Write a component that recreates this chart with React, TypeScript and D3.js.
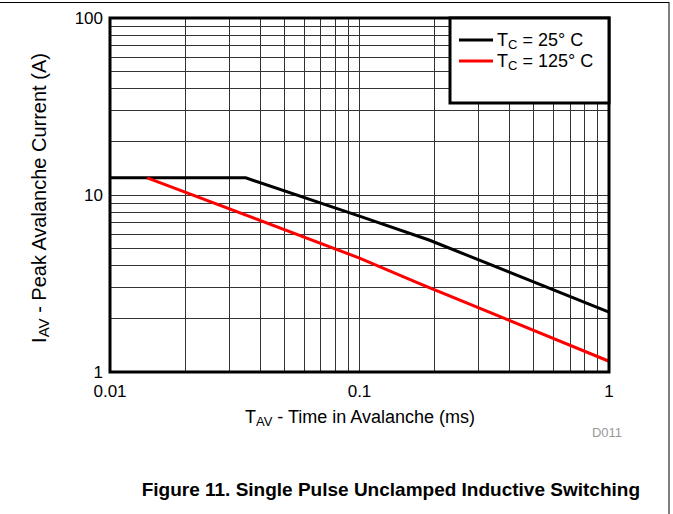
import React from "react";
import * as d3 from "d3";

const xTicks = [0.01, 0.1, 1];
const xTickLabels = ["0.01", "0.1", "1"];
const yTicks = [1, 10, 100];
const yTickLabels = ["1", "10", "100"];

const timeTc25 = [0.01, 0.035, 0.1, 0.19, 1];
const currentTc25 = [12.5, 12.5, 7.6, 5.57, 2.18];
const timeTc125 = [0.0141, 0.1, 0.175, 1];
const currentTc125 = [12.5, 4.4, 3.15, 1.15];

const seriesNames = ["25° C", "125° C"];
const seriesColors = ["#000000", "#ff0000"];

const W = 673;
const H = 514;
const left = 110;
const right = 609;
const top = 18;
const bottom = 372;

export default function App() {
  const x = d3.scaleLog().domain([0.01, 1]).range([left, right]);
  const y = d3.scaleLog().domain([1, 100]).range([bottom, top]);

  const minorX: number[] = [];
  for (const dec of [0.01, 0.1]) for (let k = 2; k <= 9; k++) minorX.push(dec * k);
  const minorY: number[] = [];
  for (const dec of [1, 10]) for (let k = 2; k <= 9; k++) minorY.push(dec * k);

  const line = d3
    .line<[number, number]>()
    .x((d) => x(d[0]))
    .y((d) => y(d[1]));

  const s1 = timeTc25.map((t, i) => [t, currentTc25[i]] as [number, number]);
  const s2 = timeTc125.map((t, i) => [t, currentTc125[i]] as [number, number]);

  const font = "Liberation Sans, Arial, sans-serif";

  return (
    <svg
      width={W}
      height={H}
      style={{ position: "absolute", left: 0, top: 0, background: "#fff" }}
      fontFamily={font}
    >
      <rect x={-1} y={2.5} width={670} height={520} fill="none" stroke="#000" strokeWidth={1} />
      <g shapeRendering="crispEdges">
        {minorX.concat([0.1]).map((v, i) => (
          <line key={"vx" + i} x1={x(v)} x2={x(v)} y1={top} y2={bottom} stroke="#333" strokeWidth={1} />
        ))}
        {minorY.concat([10]).map((v, i) => (
          <line key={"hy" + i} x1={left} x2={right} y1={y(v)} y2={y(v)} stroke="#333" strokeWidth={1} />
        ))}
      </g>
      <path d={line(s1) || ""} fill="none" stroke={seriesColors[0]} strokeWidth={3} />
      <path d={line(s2) || ""} fill="none" stroke={seriesColors[1]} strokeWidth={3} />
      <rect x={left} y={top} width={right - left} height={bottom - top} fill="none" stroke="#000" strokeWidth={3} />
      {/* legend */}
      <rect x={450} y={top} width={right - 450} height={103 - top} fill="#fff" stroke="#000" strokeWidth={3} />
      {seriesNames.map((name, i) => (
        <g key={name}>
          <line x1={459} x2={493} y1={40 + i * 21} y2={40 + i * 21} stroke={seriesColors[i]} strokeWidth={3} />
          <text x={497} y={46 + i * 21} fontSize={18} fill="#000">
            T<tspan fontSize={13} dy={3}>C</tspan>
            <tspan dy={-3}>{" = " + name}</tspan>
          </text>
        </g>
      ))}
      {/* x tick labels */}
      {xTicks.map((v, i) => (
        <text key={"xt" + i} x={x(v)} y={397} fontSize={17} textAnchor="middle" fill="#000">
          {xTickLabels[i]}
        </text>
      ))}
      {yTicks.map((v, i) => (
        <text key={"yt" + i} x={103} y={y(v) + 6} fontSize={17} textAnchor="end" fill="#000">
          {yTickLabels[i]}
        </text>
      ))}
      <text x={360} y={423} fontSize={18} textAnchor="middle" fill="#000">
        T<tspan fontSize={13} dy={3}>AV</tspan>
        <tspan dy={-3}> - Time in Avalanche (ms)</tspan>
      </text>
      <text
        transform={`translate(46, 198) rotate(-90)`}
        fontSize={20}
        textAnchor="middle"
        fill="#000"
      >
        I<tspan fontSize={15} dy={3}>AV</tspan>
        <tspan dy={-3}> - Peak Avalanche Current (A)</tspan>
      </text>
      <text x={622} y={437} fontSize={13} textAnchor="end" fill="#999">
        D011
      </text>
      <text x={640} y={496} fontSize={19} fontWeight="bold" textAnchor="end" fill="#000">
        Figure 11. Single Pulse Unclamped Inductive Switching
      </text>
    </svg>
  );
}
